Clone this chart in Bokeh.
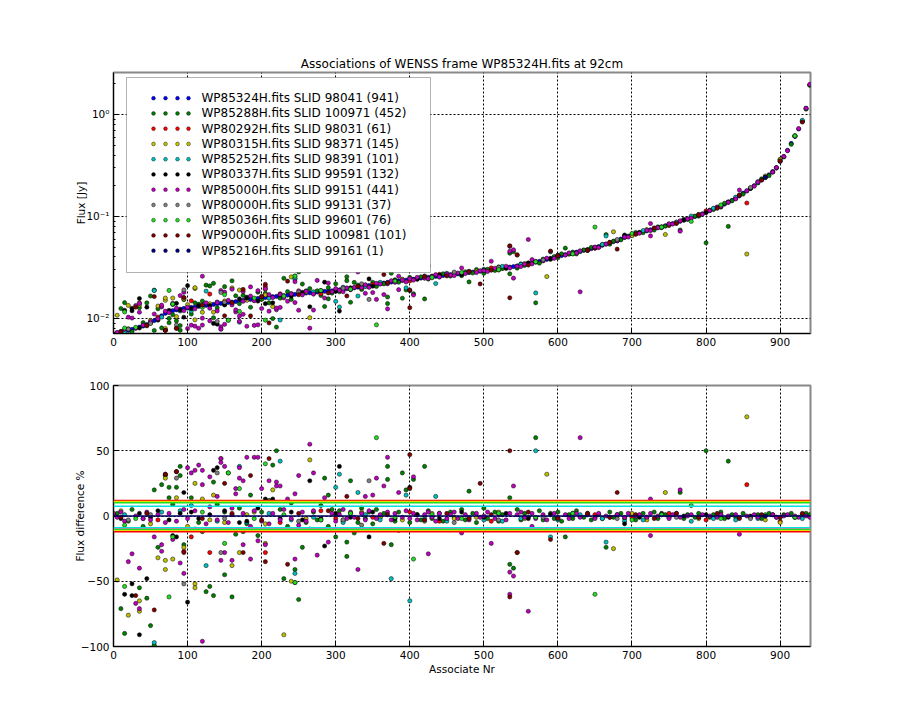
import numpy as np
from bokeh.plotting import figure
from bokeh.layouts import column
from bokeh.models import (Range1d, Span, Label, BoxAnnotation, FixedTicker,
                          CustomJSTickFormatter, ColumnDataSource)
from bokeh.embed import file_html
from bokeh.resources import INLINE

TITLE = "Associations of WENSS frame WP85324H.fits at 92cm"

# ---- reference series WP85324H: sorted flux [Jy], sampled every 5 associates ----
main_flux = [
    0.0070, 0.0072, 0.0073, 0.0075, 0.0076, 0.0078, 0.0080, 0.0082, 0.0084, 0.0087,
    0.0090, 0.0095, 0.0100, 0.0106, 0.0112, 0.0116, 0.0119, 0.0121, 0.0123, 0.0125,
    0.0126, 0.0128, 0.0129, 0.0131, 0.0132, 0.0134, 0.0135, 0.0137, 0.0139, 0.0140,
    0.0141, 0.0143, 0.0144, 0.0146, 0.0148, 0.0150, 0.0152, 0.0153, 0.0155, 0.0157,
    0.0158, 0.0160, 0.0161, 0.0163, 0.0164, 0.0166, 0.0167, 0.0169, 0.0170, 0.0172,
    0.0174, 0.0175, 0.0177, 0.0178, 0.0180, 0.0181, 0.0182, 0.0184, 0.0185, 0.0186,
    0.0188, 0.0190, 0.0192, 0.0195, 0.0197, 0.0199, 0.0202, 0.0204, 0.0207, 0.0210,
    0.0213, 0.0216, 0.0219, 0.0222, 0.0225, 0.0227, 0.0230, 0.0233, 0.0235, 0.0237,
    0.0240, 0.0242, 0.0245, 0.0248, 0.0250, 0.0253, 0.0255, 0.0258, 0.0260, 0.0263,
    0.0266, 0.0268, 0.0271, 0.0273, 0.0276, 0.0278, 0.0281, 0.0284, 0.0287, 0.0290,
    0.0294, 0.0297, 0.0300, 0.0304, 0.0307, 0.0311, 0.0315, 0.0318, 0.0322, 0.0327,
    0.0332, 0.0337, 0.0343, 0.0349, 0.0355, 0.0362, 0.0370, 0.0378, 0.0387, 0.0396,
    0.0405, 0.0413, 0.0421, 0.0430, 0.0438, 0.0446, 0.0455, 0.0464, 0.0473, 0.0482,
    0.0491, 0.0505, 0.0520, 0.0535, 0.0550, 0.0566, 0.0582, 0.0600, 0.0620, 0.0640,
    0.0660, 0.0675, 0.0690, 0.0706, 0.0722, 0.0740, 0.0757, 0.0775, 0.0792, 0.0810,
    0.0829, 0.0850, 0.0872, 0.0895, 0.0920, 0.0945, 0.0970, 0.0997, 0.1025, 0.1060,
    0.1100, 0.1140, 0.1180, 0.1225, 0.1270, 0.1320, 0.1375, 0.1435, 0.1500, 0.1590,
    0.1690, 0.1780, 0.1880, 0.2000, 0.2150, 0.2290, 0.2420, 0.2560, 0.2750, 0.2980,
    0.3460, 0.3870, 0.4450, 0.5200, 0.6100, 0.7200, 0.8600, 1.1500, 1.9500,
]
main_step = 5
main_x = [i * main_step for i in range(len(main_flux))]

# ---- associated series: (associate nr, flux difference %) ----
wp85288 = [
    (15, -90), (10, -71), (45, -63), (50, -84), (55, -99), (55, 20), (65, 24), (70, 31),
    (75, 22), (75, 14), (85, 22), (90, 38), (90, 31), (60, -24), (35, -55), (125, -58),
    (130, -54), (135, -61), (135, 26), (150, -45), (155, 33), (160, -62), (170, 6), (185, 16),
    (215, 39), (220, 50), (230, -48), (245, -41), (245, -51), (250, -64), (255, -24), (285, 29),
    (290, 16), (300, -16), (315, -31), (315, -20), (320, 27), (325, -13), (370, 28), (370, 38),
    (375, -22), (390, 33), (395, 20), (405, 28), (420, 38), (570, 60), (480, 19), (535, 14),
    (535, -37), (540, -40), (610, -16), (665, -24), (765, 18), (800, 50), (830, 42),
    (95, -22), (110, -10), (115, -5), (140, 9), (165, -14), (175, -12), (195, -15), (205, -10),
    (210, 12), (225, 5), (235, -8), (260, -5), (270, 3), (275, -3), (280, 8), (290, -8),
    (295, 5), (120, -12), (105, 14), (180, -6), (200, 3), (240, 10), (265, -10), (25, 5),
    (5, 2), (40, -8), (20, -4), (80, 9), (150, 3),
    (305, 4), (310, -3), (320, 2), (330, -5), (335, 6), (340, -2), (345, 3), (350, -6),
    (355, 5), (360, -1), (365, 2), (380, -4), (385, 3), (400, -5), (410, 1), (415, -3),
    (425, 4), (430, -2), (440, 2), (445, -4), (455, 3), (460, -1), (470, 5), (475, -3),
    (485, 2), (490, -5), (500, 6), (505, -2), (515, 3), (520, -4), (525, 1), (545, 5),
    (550, -3), (555, 2), (560, -1), (575, 4), (580, -3), (590, 2), (595, -2), (600, 3),
    (605, -4), (615, 1), (620, -2), (625, 4), (635, -1), (640, 2), (645, -3), (655, 1),
    (660, -2), (670, 3), (675, -1), (685, 2), (690, -2), (700, 1), (705, -3), (715, 2),
    (720, -1), (730, 3), (735, -2), (745, 1), (750, -1), (760, 2), (770, -2), (775, 1),
    (785, -1), (790, 2), (805, -1), (810, 1), (820, 3), (825, -2), (835, 1), (840, -1),
    (850, 2), (860, -1), (870, 1), (875, -2), (885, 2), (895, -1), (905, 1), (915, 2),
    (920, -1), (930, 1), (935, 2), (940, 1),
]
wp80292 = [
    (105, -16), (130, -28), (205, -28), (95, -27), (225, -5), (855, 24), (280, 4), (300, -2),
    (400, 3), (440, -4), (510, -4), (600, -2), (700, -1), (800, -3), (900, -4), (160, 2),
    (350, -1), (650, 1), (750, 2), (60, -3),
]
wp80315 = [
    (5, -49), (20, -76), (35, -65), (35, -73), (70, 29), (70, -34), (70, -41), (60, -32),
    (85, 14), (80, -33), (100, -8), (95, -24), (110, 25), (110, -52), (110, -55), (120, 13),
    (130, -3), (135, 16), (145, 44), (170, -28), (160, -38), (180, 1), (205, -21), (205, -6),
    (215, 20), (230, -91), (240, -50), (265, 43), (585, 32), (545, -28), (675, -25), (745, 18),
    (855, 76), (260, -2), (310, -4), (335, 3), (390, -3), (430, 2), (460, -2), (490, -1),
    (520, 3), (555, -2), (640, 1), (700, 2), (720, -3), (790, -2), (820, 1), (880, -3),
    (900, -5), (10, 4), (50, -6), (150, -5), (190, 3), (300, 1), (360, -1),
]
wp85252 = [
    (55, -97), (65, 3), (105, 8), (125, -38), (170, 38), (225, 42), (245, -44), (300, 22),
    (305, 32), (330, 18), (375, -48), (395, 16), (400, -65), (435, 15), (570, 50), (590, -16),
    (665, -20), (15, 1), (40, -2), (90, 4), (140, -4), (180, -5), (210, 2), (240, -3),
    (270, -1), (310, -5), (340, 1), (360, -3), (420, -2), (450, -4), (480, -1), (500, -3),
    (525, -4), (550, -2), (600, -3), (630, 1), (660, -2), (690, -4), (715, -3), (750, -1),
    (780, -4), (810, -2), (840, -3), (870, -2), (900, -1), (930, -2),
]
wp80337 = [
    (25, -52), (15, -60), (25, -61), (35, -91), (45, -48), (70, 32), (85, 34), (95, 18),
    (100, -66), (80, -15), (85, -16), (135, 35), (140, 37), (180, -4), (205, 13), (215, 13),
    (265, 27), (280, -2), (285, -23), (305, 38), (345, -16), (400, 22), (690, -6), (0, 1),
    (10, -2), (35, 2), (50, -1), (60, 4), (75, -3), (90, 2), (105, 3), (115, -2),
    (130, 1), (150, 4), (170, -5), (195, 6), (225, -2), (240, 3), (255, -3), (300, 2),
    (320, -1), (350, 3), (380, -2), (410, 1), (440, -2), (470, 3), (500, -1), (530, 2),
    (560, -2), (590, 1), (620, 2), (650, -1), (680, 1), (710, -1), (740, 2), (770, 0),
    (800, 1), (830, -1), (860, 0), (890, 1), (920, -1),
]
wp85000 = [
    (20, -35), (25, -29), (30, -67), (35, -71), (35, -40), (55, -16), (65, -22), (65, -27),
    (80, -18), (90, -36), (95, -44), (100, 37), (105, 33), (110, 35), (115, 39), (120, 35),
    (120, -96), (120, 24), (130, 30), (140, 15), (145, 41), (145, 44), (150, 38), (150, -28),
    (145, -34), (160, -34), (165, 21), (165, 17), (170, 29), (170, 37), (175, 27), (175, -22),
    (180, 45), (185, -33), (190, 45), (195, -19), (195, 45), (200, 21), (205, -22), (210, 27),
    (220, 26), (220, 23), (225, 23), (235, 13), (245, 17), (245, -33), (250, 31), (265, 55),
    (270, 33), (275, -30), (285, 14), (290, -20), (330, -41), (340, 15), (350, 16), (355, 29),
    (365, 23), (370, 45), (385, -11), (405, 30), (425, -29), (385, 18), (470, -13), (540, 23),
    (510, -21), (535, -43), (540, -46), (535, -60), (560, -73), (630, 60), (725, 13), (765, 20),
    (725, -15), (845, -14), (565, -8),
    (0, 2), (5, -1), (10, 3), (15, -4), (30, 0), (40, -2), (45, 3), (50, -3),
    (60, 1), (70, -5), (75, 2), (85, -4), (95, 5), (100, -2), (110, 4), (125, -6),
    (130, 7), (140, -3), (155, -5), (160, 6), (175, 2), (185, -8), (190, 4), (200, -4),
    (210, -6), (215, 2), (225, -3), (230, 5), (240, -2), (250, -7), (255, 3), (260, -4),
    (270, 4), (280, -3), (295, 2), (300, -4), (305, 1), (310, 5), (315, -2), (320, 3),
    (325, -1), (335, 2), (340, -3), (345, 4), (355, -2), (360, 1), (370, 3), (375, -3),
    (380, 2), (390, -1), (395, 4), (400, -2), (405, 2), (410, -3), (420, 1), (425, 3),
    (430, -1), (435, -4), (440, 2), (450, -2), (455, 1), (460, 3), (465, -2), (475, 1),
    (480, -3), (490, 2), (495, -1), (500, 0), (505, 3), (515, -2), (520, 1), (530, -3),
    (535, 2), (545, 1), (550, 3), (555, -1), (565, 2), (570, -2), (580, 1), (585, -3),
    (595, 2), (600, -1), (610, 1), (615, -2), (625, 2), (630, -1), (640, 1), (650, -2),
    (655, 2), (665, 0), (670, -1), (680, 1), (690, -1), (695, 2), (705, 0), (710, 1),
    (720, -1), (725, 2), (735, 0), (740, 1), (750, -2), (755, 1), (765, -1), (775, 0),
    (780, 1), (790, -1), (795, 1), (805, 0), (815, -1), (820, 1), (830, 0), (840, 1),
    (845, -1), (855, 0), (865, 1), (870, -1), (880, 0), (890, 1), (895, -1), (905, 0),
    (910, 1), (920, 0), (925, -1), (935, 0), (940, -1),
]
wp80000 = [
    (85, 29), (95, -52), (140, 33), (145, -28), (345, 27), (335, -7), (20, -3), (50, 1),
    (150, -2), (250, -4), (310, -3), (420, -4), (460, -5), (520, -3), (580, -1), (680, -2),
    (760, -1), (860, -2),
]
wp85036 = [
    (15, -54), (15, -7), (75, -62), (80, -16), (150, -21), (155, 33), (170, 21), (205, 40),
    (245, -51), (355, 60), (405, -33), (650, -60), (780, 8), (30, -2), (120, 3), (190, -2),
    (230, 1), (280, -3), (320, 2), (380, -1), (430, 1), (470, -2), (520, 2), (570, -1),
    (620, 2), (700, -3), (740, 1), (820, -2), (880, 1), (920, -1),
]
wp90000 = [
    (30, -61), (55, -72), (70, 32), (85, 34), (95, -28), (185, 31), (175, -28), (210, 44),
    (205, -35), (235, -37), (150, 25), (400, 21), (400, 47), (315, 15), (365, -21), (535, 50),
    (495, 25), (680, 18), (545, -28), (590, -18), (535, -62), (10, -1), (45, 2), (120, -2),
    (160, 1), (200, -3), (250, 2), (290, 4), (330, -2), (370, 1), (420, -3), (450, 2),
    (480, -2), (510, 1), (560, 3), (600, -2), (640, 2), (670, -1), (705, 1), (730, -2),
    (760, 2), (790, -1), (815, 2), (845, -2), (875, 1), (900, -1), (930, 2),
]
wp85216 = [(880, 0)]

series_labels = [
    "WP85324H.fits SLID 98041 (941)", "WP85288H.fits SLID 100971 (452)",
    "WP80292H.fits SLID 98031 (61)", "WP80315H.fits SLID 98371 (145)",
    "WP85252H.fits SLID 98391 (101)", "WP80337H.fits SLID 99591 (132)",
    "WP85000H.fits SLID 99151 (441)", "WP80000H.fits SLID 99131 (37)",
    "WP85036H.fits SLID 99601 (76)", "WP90000H.fits SLID 100981 (101)",
    "WP85216H.fits SLID 99161 (1)",
]
series_colors = ["#0000ff", "#008000", "#ff0000", "#bfbf00", "#00bfbf", "#000000",
                 "#bf00bf", "#808080", "#22dd22", "#800000", "#000080"]
assoc_series = [wp85288, wp80292, wp80315, wp85252, wp80337, wp85000, wp80000,
                wp85036, wp90000, wp85216]

# horizontal reference levels in the difference panel
hline_values = [11.9, 11.1, 10.1, 7.5, -9.0, -9.8, -10.6, -11.3, -12.1]
hline_colors = ["#ff0000", "#dddd00", "#22dd22", "#00e0e0", "#00e0e0", "#999999",
                "#22dd22", "#dddd00", "#ff0000"]

x_ticks = [0, 100, 200, 300, 400, 500, 600, 700, 800, 900]
diff_ticks = [-100, -50, 0, 50, 100]
flux_ticks = [0.01, 0.1, 1.0]

# ---- layout constants ----
XMAX = 941
YMIN, YMAX = 0.0071, 2.58
FONT = "DejaVu Sans"
FX0, FW = 113, 697
FY0, FH = 72, 261
MSIZE = 4.2


def px_to_x(px):
    return (px - FX0) * XMAX / FW


def py_to_y(py):
    lo, hi = np.log10(YMIN), np.log10(YMAX)
    return 10 ** (hi - (py - FY0) / FH * (hi - lo))


def style(p, ylab_standoff):
    p.background_fill_color = "white"
    p.border_fill_color = "white"
    p.outline_line_color = "#888888"
    p.outline_line_width = 2
    for ax in p.axis:
        ax.axis_line_color = "black"
        ax.major_tick_in = 5
        ax.major_tick_out = 0
        ax.minor_tick_in = 2
        ax.minor_tick_out = 0
        ax.major_label_text_font = FONT
        ax.major_label_text_font_size = "10.5px"
        ax.major_label_text_color = "black"
        ax.axis_label_text_font = FONT
        ax.axis_label_text_font_size = "10.5px"
        ax.axis_label_text_font_style = "normal"
        ax.axis_label_text_color = "black"
        ax.major_label_standoff = 4
    p.xaxis.axis_label_standoff = 1
    p.yaxis.axis_label_standoff = ylab_standoff
    p.xaxis.minor_tick_line_color = None
    for g in (p.xgrid, p.ygrid):
        g.grid_line_color = "black"
        g.grid_line_dash = "2 2"
        g.grid_line_width = 1
        g.grid_line_alpha = 1.0


main_arr = np.array(main_flux)

# ================= top panel =================
p1 = figure(width=900, height=360, y_axis_type="log",
            x_range=Range1d(0, XMAX), y_range=Range1d(YMIN, YMAX),
            output_backend="svg", toolbar_location=None,
            min_border_left=113, min_border_right=90,
            min_border_top=72, min_border_bottom=27)
p1.title.text = TITLE
p1.title.align = "center"
p1.title.text_font = FONT
p1.title.text_font_size = "12px"
p1.title.text_font_style = "normal"
p1.title.text_color = "black"
p1.title.standoff = 4
p1.xaxis.ticker = FixedTicker(ticks=x_ticks)
minor = [m * d for d in (0.001, 0.01, 0.1, 1.0) for m in range(2, 10)]
p1.yaxis.ticker = FixedTicker(ticks=flux_ticks, minor_ticks=minor)
p1.yaxis.formatter = CustomJSTickFormatter(code="""
    const e = Math.round(Math.log10(tick));
    const sup = {'-': '\u207b', '0': '\u2070', '1': '\u00b9', '2': '\u00b2', '3': '\u00b3'};
    return '10' + String(e).split('').map(c => sup[c] || c).join('');
""")
p1.yaxis.axis_label = "Flux [Jy]"
style(p1, -4)

src_main = ColumnDataSource(dict(x=main_x, y=main_flux))
p1.scatter("x", "y", source=src_main, size=MSIZE, fill_color=series_colors[0],
           line_color="black", line_width=0.5)
for pts, col in zip(assoc_series, series_colors[1:]):
    xs = [a for a, d in pts]
    ds = np.array([d for a, d in pts], dtype=float)
    base = main_arr[[a // main_step for a in xs]]
    ys = base * (1 - ds / 100.0)
    p1.scatter(xs, ys, size=MSIZE, fill_color=col, line_color="black", line_width=0.5)

# legend (drawn manually to show a row of four markers per entry)
box = BoxAnnotation(left=px_to_x(126), right=px_to_x(430),
                    top=py_to_y(77), bottom=py_to_y(272),
                    fill_color="white", fill_alpha=1.0,
                    line_color="black", line_width=1)
p1.add_layout(box)
dot_px = [153, 165, 177, 188]
leg_x, leg_y, leg_c = [], [], []
for i, (lab, col) in enumerate(zip(series_labels, series_colors)):
    row_py = 97.7 + 15.25 * i
    p1.add_layout(Label(x=px_to_x(201), y=py_to_y(row_py), text=lab,
                        text_font=FONT, text_font_size="12px",
                        text_baseline="middle", text_color="black"))
    for dp in dot_px:
        leg_x.append(px_to_x(dp))
        leg_y.append(py_to_y(row_py))
        leg_c.append(col)
r_leg = p1.scatter(leg_x, leg_y, size=3.8, fill_color=leg_c,
                   line_color="black", line_width=0.4)
r_leg.level = "overlay"

# ================= bottom panel =================
p2 = figure(width=900, height=360,
            x_range=Range1d(0, XMAX), y_range=Range1d(-100, 100),
            output_backend="svg", toolbar_location=None,
            min_border_left=113, min_border_right=90,
            min_border_top=25, min_border_bottom=74)
p2.xaxis.ticker = FixedTicker(ticks=x_ticks)
p2.yaxis.ticker = FixedTicker(ticks=diff_ticks)
p2.xaxis.axis_label = "Associate Nr"
p2.yaxis.axis_label = "Flux difference %"
style(p2, -8)
p2.yaxis.minor_tick_line_color = None

for pts, col in zip(assoc_series, series_colors[1:]):
    xs = [a for a, d in pts]
    ds = [d for a, d in pts]
    p2.scatter(xs, ds, size=MSIZE, fill_color=col, line_color="black", line_width=0.5)

for v, c in zip(hline_values, hline_colors):
    p2.add_layout(Span(location=v, dimension="width", line_color=c, line_width=1.5))
p2.add_layout(Span(location=0, dimension="width", line_color="#000060", line_width=1.5))

layout = column(p1, p2, spacing=0)
open("out.html", "w").write(file_html(layout, INLINE))
